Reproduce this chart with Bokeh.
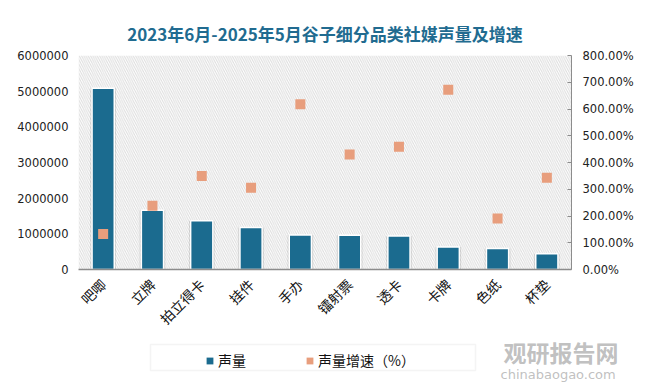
from bokeh.plotting import figure
from bokeh.models import (Range1d, LinearAxis, FixedTicker, NumeralTickFormatter,
                          FactorRange, Legend, LegendItem, BoxAnnotation, ColumnDataSource, Label)
from bokeh.layouts import column, row
from bokeh.embed import file_html
from bokeh.resources import INLINE
import math

categories = ["吧唧", "立牌", "拍立得卡", "挂件", "手办", "镭射票", "透卡", "卡牌", "色纸", "杯垫"]
volume = [5080000, 1660000, 1370000, 1180000, 970000, 960000, 940000, 630000, 590000, 440000]
growth = [1.33, 2.38, 3.50, 3.06, 6.18, 4.30, 4.59, 6.72, 1.91, 3.43]
left_ticks = [0, 1000000, 2000000, 3000000, 4000000, 5000000, 6000000]
right_ticks = [0, 1, 2, 3, 4, 5, 6, 7, 8]
series_names = ["声量", "声量增速（%）"]

BAR_COLOR = "#1B6B8F"
PT_COLOR = "#E89E7D"

src = ColumnDataSource(dict(cat=categories, vol=volume, g=growth))

TICK_FONT = "DejaVu Sans"
CJK = "Noto Sans CJK SC"

p = figure(width=636, height=338, output_backend="svg", toolbar_location=None,
           x_range=FactorRange(*categories, range_padding=0),
           y_range=Range1d(0, 6000000),
           min_border_left=78, min_border_right=62, min_border_top=55, min_border_bottom=62,
           title="2023年6月-2025年5月谷子细分品类社媒声量及增速")
p.extra_y_ranges = {"g": Range1d(0, 8)}

p.title.align = "center"
p.title.text_font = CJK
p.title.text_font_size = "17px"
p.title.text_font_style = "bold"
p.title.text_color = "#216B90"
p.title.standoff = 20

p.outline_line_color = None
p.background_fill_color = "white"
p.border_fill_color = "white"
p.xgrid.grid_line_color = None
p.ygrid.grid_line_color = None

hatch = BoxAnnotation(fill_alpha=0, line_alpha=0, hatch_pattern="\\", hatch_color="#dcdcdc",
                      hatch_scale=4.5, hatch_weight=1, level="underlay")
p.add_layout(hatch)

# bar shadow
p.vbar(x="cat", top="vol", width=0.52, source=src, fill_color="#000000", fill_alpha=0.12,
       line_color=None)
p.vbar(x="cat", top="vol", width=0.45, source=src, fill_color=BAR_COLOR,
       line_color="white", line_width=1.5)
p.scatter(x="cat", y="g", y_range_name="g", source=src, marker="square", size=10,
          fill_color=PT_COLOR, line_color=None)

# left axis
ya = p.yaxis[0]
ya.ticker = FixedTicker(ticks=left_ticks)
ya.formatter = NumeralTickFormatter(format="0")
ya.axis_line_color = None
ya.major_tick_line_color = None
ya.minor_tick_line_color = None
ya.major_label_text_font = TICK_FONT
ya.major_label_text_font_size = "11.5px"
ya.major_label_text_color = "#222222"
ya.major_label_standoff = 4

# right axis
ra = LinearAxis(y_range_name="g", ticker=FixedTicker(ticks=right_ticks),
                formatter=NumeralTickFormatter(format="0.00%"))
ra.axis_line_color = "#8c8c8c"
ra.major_tick_line_color = "#8c8c8c"
ra.major_tick_in = 4
ra.major_tick_out = 0
ra.minor_tick_line_color = None
ra.major_label_text_font = TICK_FONT
ra.major_label_text_font_size = "11.5px"
ra.major_label_text_color = "#222222"
ra.major_label_standoff = 11
p.add_layout(ra, "right")

# bottom axis
xa = p.xaxis[0]
xa.axis_line_color = "#8c8c8c"
xa.axis_line_width = 1.5
xa.major_tick_line_color = None
xa.minor_tick_line_color = None
xa.major_label_orientation = math.pi / 4
xa.major_label_text_font = CJK
xa.major_label_text_font_size = "14px"
xa.major_label_text_color = "#111111"
xa.major_label_standoff = 6

# legend strip (own full-width frame: data x == page pixel x)
q = figure(width=636, height=44, output_backend="svg", toolbar_location=None,
           x_range=Range1d(0, 636), y_range=Range1d(0, 44),
           min_border=0)
q.axis.visible = False
q.grid.visible = False
q.outline_line_color = None
q.border_fill_color = "white"
q.background_fill_color = "white"

q.add_layout(BoxAnnotation(left=150, right=475, bottom=12, top=38, fill_alpha=0,
                           line_color="#d9d9d9", line_width=1.5))

dummy = ColumnDataSource(dict(x=[-5000], y=[-5000]))
r1 = q.scatter(x="x", y="y", source=dummy, marker="square", fill_color=BAR_COLOR, line_color=None)
r2 = q.scatter(x="x", y="y", source=dummy, marker="square", fill_color=PT_COLOR, line_color=None)

legend = Legend(items=[LegendItem(label=series_names[0], renderers=[r1]),
                       LegendItem(label=series_names[1], renderers=[r2])],
                orientation="horizontal", location=(201, 12),
                label_text_font=CJK, label_text_font_size="14px", label_text_color="#111111",
                glyph_width=17, glyph_height=17, label_standoff=0, spacing=55,
                padding=4, border_line_color=None, background_fill_alpha=0,
                margin=0, label_height=14, label_width=28)
q.add_layout(legend, "center")

q.add_layout(Label(x=503, y=14, text="观研报告网", text_font=CJK, text_font_style="bold",
                   text_font_size="23px", text_color="#b0b0b0", text_alpha=0.8))
q.add_layout(Label(x=500, y=1, text="chinabaogao.com", text_font="DejaVu Sans",
                   text_font_size="13px", text_color="#b0b0b0", text_alpha=0.8))

open("out.html", "w").write(file_html(column(p, row(q), spacing=0), INLINE))
